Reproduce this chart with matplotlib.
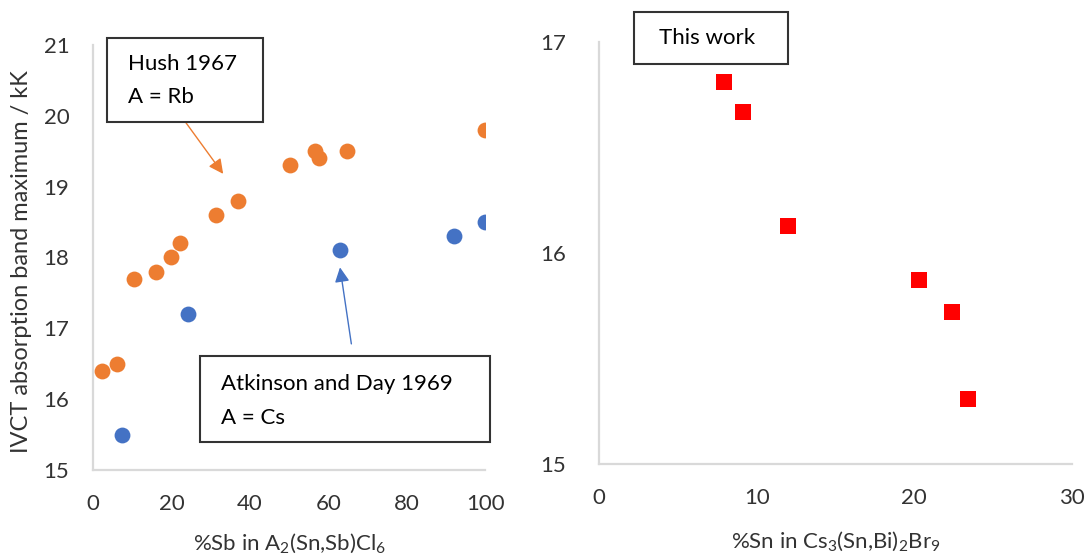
import matplotlib
matplotlib.use('Agg')
import matplotlib.pyplot as plt
from matplotlib.patches import Rectangle

plt.rcParams['font.family'] = ['Lato', 'DejaVu Sans']
plt.rcParams['mathtext.fontset'] = 'custom'
plt.rcParams['mathtext.rm'] = 'Lato'
plt.rcParams['mathtext.it'] = 'Lato:italic'

# Hush 1967, A = Rb
hush_x = [2.4, 6.0, 10.5, 16.1, 19.8, 22.3, 31.3, 37.1, 50.2, 56.7, 57.6, 64.7, 100]
hush_y = [16.4, 16.5, 17.7, 17.8, 18.0, 18.2, 18.6, 18.8, 19.3, 19.5, 19.4, 19.5, 19.8]

# Atkinson and Day 1969, A = Cs
atk_x = [7.3, 24.3, 63.0, 92.0, 100]
atk_y = [15.5, 17.2, 18.1, 18.3, 18.5]

# This work
sn_x = [7.9, 9.1, 12.0, 20.3, 22.4, 23.4]
sn_y = [16.81, 16.67, 16.13, 15.87, 15.72, 15.31]

orange = '#ED7D31'
blue = '#4472C4'
red = '#FF0000'
grey_txt = '#333333'
spine_c = '#D9D9D9'
FS = 16

fig = plt.figure(figsize=(10.88, 5.55), dpi=100)
ax1 = fig.add_axes([0.0855, 0.1532, 0.3603, 0.7658])
ax2 = fig.add_axes([0.5506, 0.164, 0.4347, 0.7604])


def style(ax):
    for s in ['top', 'right']:
        ax.spines[s].set_visible(False)
    for s in ['left', 'bottom']:
        ax.spines[s].set_color(spine_c)
        ax.spines[s].set_linewidth(1.6)
    ax.tick_params(length=0, labelsize=FS, labelcolor=grey_txt)
    ax.tick_params(axis='x', pad=17)
    ax.tick_params(axis='y', pad=17)


def box(ax, x0, x1, y0, y1):
    ax.add_patch(Rectangle((x0, y0), x1 - x0, y1 - y0, fc='white', ec='#333333',
                           lw=1.5, clip_on=False, zorder=4))


# left panel
ax1.scatter(hush_x, hush_y, s=130, color=orange, zorder=3, linewidths=0)
ax1.scatter(atk_x, atk_y, s=130, color=blue, zorder=3, linewidths=0)
ax1.set_xlim(0, 100)
ax1.set_ylim(15, 21)
ax1.set_xticks(range(0, 101, 20))
ax1.set_yticks(range(15, 22))
style(ax1)
ax1.set_ylabel('IVCT absorption band maximum / kK', fontsize=FS + 1, color=grey_txt)
ax1.yaxis.set_label_coords(-0.155, 0.49)
ax1.set_xlabel('%Sb in A$_2$(Sn,Sb)Cl$_6$', fontsize=FS, color=grey_txt)
ax1.xaxis.set_label_coords(0.5, -0.145)

ax1.annotate('', xy=(33.2, 19.18), xytext=(23.6, 19.91),
             arrowprops=dict(arrowstyle='-|>', color=orange, lw=1, mutation_scale=22,
                             shrinkA=0, shrinkB=0))
box(ax1, 3.6, 43.4, 19.91, 21.10)
ax1.text(9.0, 20.73, 'Hush 1967', fontsize=FS, va='center', ha='left', zorder=5)
ax1.text(9.0, 20.26, 'A = Rb', fontsize=FS, va='center', ha='left', zorder=5)

ax1.annotate('', xy=(63.0, 17.86), xytext=(65.9, 16.78),
             arrowprops=dict(arrowstyle='-|>', color=blue, lw=1, mutation_scale=22,
                             shrinkA=0, shrinkB=0))
box(ax1, 27.4, 101.3, 15.40, 16.61)
ax1.text(32.6, 16.21, 'Atkinson and Day 1969', fontsize=FS, va='center', ha='left', zorder=5)
ax1.text(32.6, 15.73, 'A = Cs', fontsize=FS, va='center', ha='left', zorder=5)

# right panel
ax2.scatter(sn_x, sn_y, s=120, color=red, marker='s', zorder=3, linewidths=0)
ax2.set_xlim(0, 30)
ax2.set_ylim(15, 17)
ax2.set_xticks([0, 10, 20, 30])
ax2.set_yticks([15, 16, 17])
style(ax2)
ax2.tick_params(axis='y', pad=24)
ax2.set_xlabel('%Sn in Cs$_3$(Sn,Bi)$_2$Br$_9$', fontsize=FS, color=grey_txt)
ax2.xaxis.set_label_coords(0.5, -0.155)
box(ax2, 2.22, 11.98, 16.896, 17.142)
ax2.text(6.85, 17.02, 'This work', fontsize=FS, va='center', ha='center', zorder=5)

fig.savefig('out.png', dpi=100)
